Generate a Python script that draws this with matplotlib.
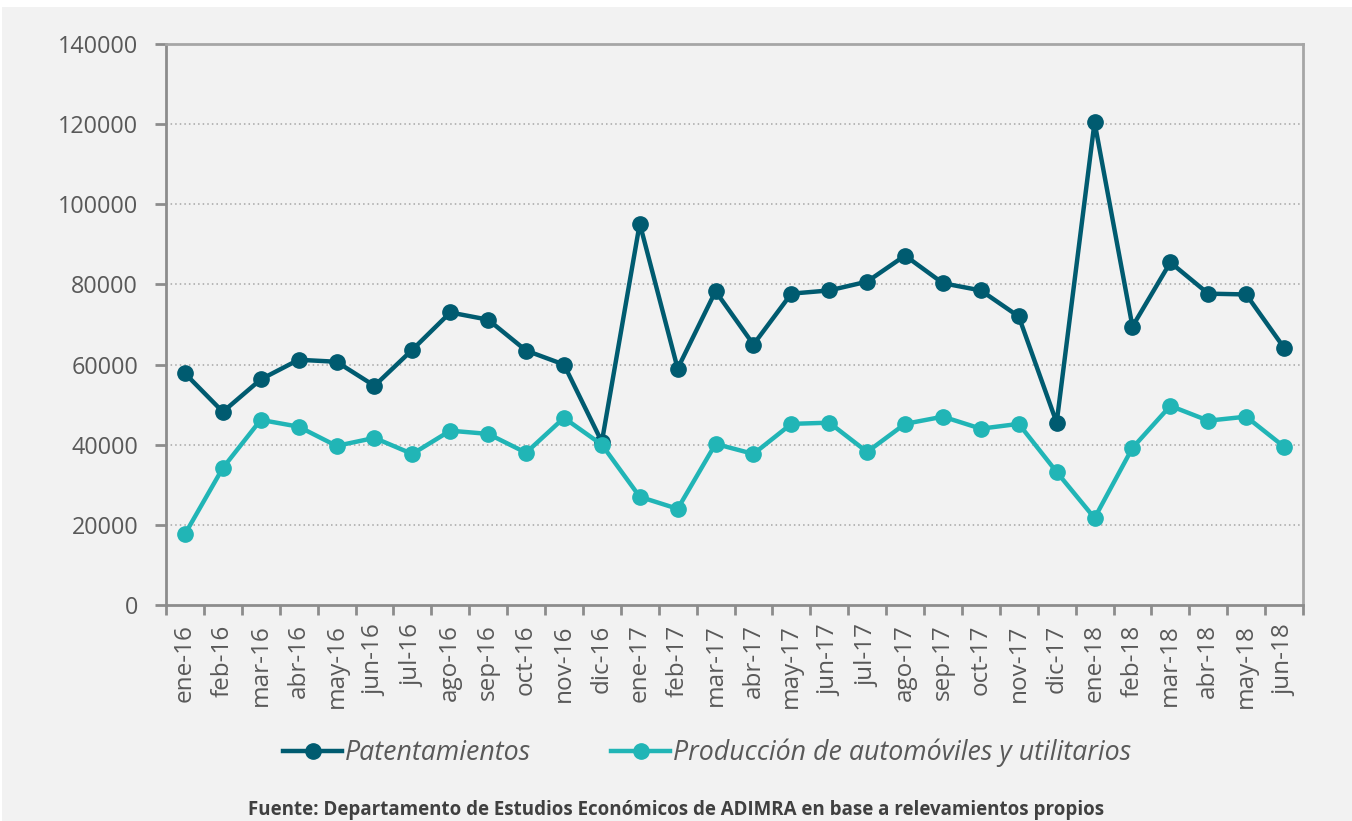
import matplotlib.pyplot as plt
from matplotlib.patches import Rectangle

months = ['ene-16', 'feb-16', 'mar-16', 'abr-16', 'may-16', 'jun-16', 'jul-16', 'ago-16',
          'sep-16', 'oct-16', 'nov-16', 'dic-16', 'ene-17', 'feb-17', 'mar-17', 'abr-17',
          'may-17', 'jun-17', 'jul-17', 'ago-17', 'sep-17', 'oct-17', 'nov-17', 'dic-17',
          'ene-18', 'feb-18', 'mar-18', 'abr-18', 'may-18', 'jun-18']
patentamientos = [57800, 48200, 56300, 61200, 60700, 54700, 63700, 73000,
                  71200, 63500, 60000, 40700, 95200, 59000, 78300, 65000,
                  77700, 78500, 80700, 87200, 80300, 78500, 72000, 45500,
                  120500, 69500, 85500, 77700, 77500, 64200]
produccion = [17700, 34200, 46200, 44500, 39700, 41700, 37700, 43500,
              42700, 38000, 46700, 40000, 27000, 24000, 40200, 37700,
              45200, 45500, 38200, 45200, 47000, 44000, 45200, 33200,
              21700, 39200, 49700, 46000, 47000, 39500]

dark = '#005b70'
light = '#21b5b6'
grey = '#595959'

plt.rcParams['font.family'] = ['Open Sans', 'DejaVu Sans']

fig = plt.figure(figsize=(13.52, 8.21), dpi=100, facecolor='white')
bg = Rectangle((2 / 1352, 0), 1, 1 - 7 / 821, transform=fig.transFigure,
               facecolor='#f2f2f2', edgecolor='none', zorder=-10)
fig.patches.append(bg)
ax = fig.add_axes([166 / 1352, 1 - 605 / 821, (1303 - 166) / 1352, (605 - 44) / 821])
ax.set_facecolor('#f2f2f2')

x = list(range(len(months)))
ax.plot(x, patentamientos, color=dark, lw=3.2, marker='o', markersize=11,
        label='Patentamientos', zorder=3)
ax.plot(x, produccion, color=light, lw=3.2, marker='o', markersize=11,
        label='Producción de automóviles y utilitarios', zorder=3)

ax.set_xlim(-0.5, len(months) - 0.5)
ax.set_ylim(0, 140000)
ax.set_yticks(range(0, 140001, 20000))
ax.set_yticklabels([str(v) for v in range(0, 140001, 20000)])
ax.set_xticks([i - 0.5 for i in range(len(months) + 1)])
ax.set_xticklabels([])
ax.set_xticks(x, minor=True)
ax.set_xticklabels(months, minor=True, rotation=90)
ax.tick_params(axis='x', which='minor', length=0, pad=14, labelsize=17.5, labelcolor=grey)
ax.tick_params(axis='x', which='major', length=7, width=2, color='#8c8c8c')
ax.tick_params(axis='y', length=8, width=2, color='#8c8c8c', labelsize=16.8,
               labelcolor=grey, pad=12)

for y in range(20000, 140000, 20000):
    ax.axhline(y, color='#a6a6a6', lw=1.1, ls=(0, (1, 2)), zorder=1)

for s in ['left', 'bottom']:
    ax.spines[s].set_color('#8c8c8c')
    ax.spines[s].set_linewidth(2)
for s in ['top', 'right']:
    ax.spines[s].set_color('#a6a6a6')
    ax.spines[s].set_linewidth(2)

leg = fig.legend(loc='center', bbox_to_anchor=(707 / 1352, 1 - 753 / 821), ncol=2,
                 frameon=False, handlelength=2.2, handletextpad=0.1,
                 columnspacing=3.0, labelcolor=grey, prop={'style': 'italic', 'size': 19.3})

fig.text(676 / 1352, 1 - 810 / 821, 'Fuente: Departamento de Estudios Económicos de ADIMRA en base a relevamientos propios',
         ha='center', va='center', fontsize=13.5, fontweight='bold', color='#404040')

fig.savefig('out.png', dpi=100, facecolor=fig.get_facecolor())
